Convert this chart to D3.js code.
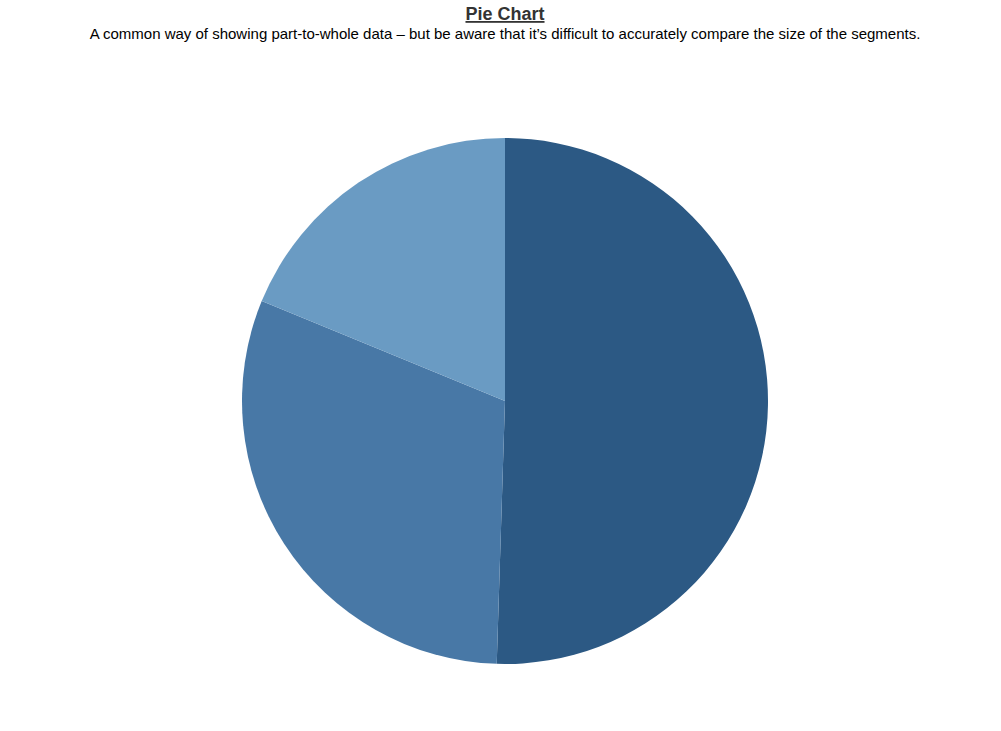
<!DOCTYPE html>
<html>
<head>
<meta charset="utf-8">
<script src="https://cdn.jsdelivr.net/npm/d3@7"></script>
<style>
  body { margin: 0; background: #fff; font-family: "Liberation Sans", Arial, sans-serif; }
</style>
</head>
<body>
<div id="chart"></div>
<script>
  // slice data (clockwise from 12 o'clock)
  const categories = ["A", "B", "C"];
  const values = [50.5, 30.7, 18.8];
  const sliceColors = ["#2c5984", "#4878a6", "#6a9bc3"];

  const width = 1001, height = 731;
  const cx = 505, cy = 401, radius = 263;

  const svg = d3.select("#chart")
    .append("svg")
    .attr("width", width)
    .attr("height", height);

  // title + subtitle
  svg.append("text")
    .attr("x", 505)
    .attr("y", 20)
    .attr("text-anchor", "middle")
    .style("font-size", "18px")
    .style("font-weight", "bold")
    .style("text-decoration", "underline")
    .style("fill", "#333")
    .text("Pie Chart");

  svg.append("text")
    .attr("x", 505)
    .attr("y", 39)
    .attr("text-anchor", "middle")
    .style("font-size", "15px")
    .style("fill", "#000")
    .text("A common way of showing part-to-whole data \u2013 but be aware that it\u2019s difficult to accurately compare the size of the segments.");

  const color = d3.scaleOrdinal().domain(categories).range(sliceColors);

  const pie = d3.pie().sort(null).value(d => d.value);
  const arc = d3.arc().innerRadius(0).outerRadius(radius);

  const data = categories.map((c, i) => ({ name: c, value: values[i] }));

  svg.append("g")
    .attr("transform", `translate(${cx}, ${cy})`)
    .selectAll("path")
    .data(pie(data))
    .join("path")
    .attr("d", arc)
    .attr("fill", d => color(d.data.name));
</script>
</body>
</html>
